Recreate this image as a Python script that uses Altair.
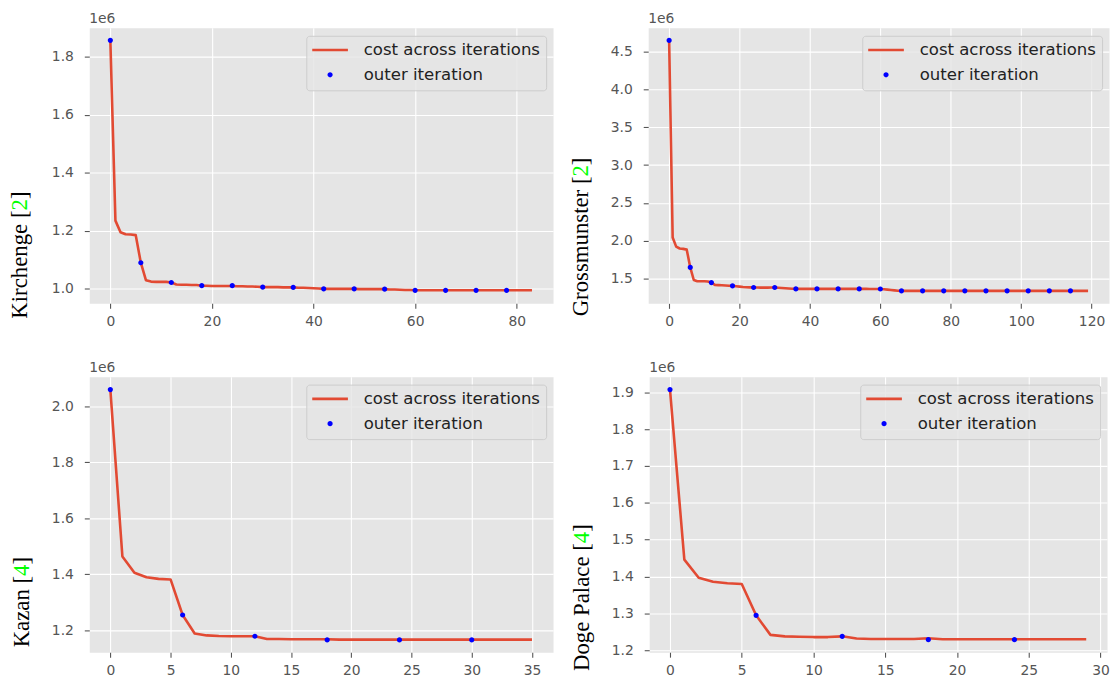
import altair as alt
import pandas as pd

SERIES = ["cost across iterations", "outer iteration"]
LINE_COLOR = "#E24A33"
DOT_COLOR = "#0000FF"
LINE_PATH = "M-4,0H4"
DOT_PATH = "M-0.29,0A0.29,0.29,0,1,1,0.29,0A0.29,0.29,0,1,1,-0.29,0Z"

# ---- Kirchenge [2] (values in units of 1e6) ----
kir_cost = [
    1.856, 1.235, 1.195, 1.188, 1.187, 1.185, 1.090, 1.030, 1.025, 1.024,
    1.024, 1.024, 1.022, 1.015, 1.014, 1.014, 1.013, 1.013, 1.011, 1.011,
    1.010, 1.010, 1.010, 1.010, 1.010, 1.009, 1.009, 1.008, 1.008, 1.007,
    1.006, 1.006, 1.006, 1.006, 1.005, 1.005, 1.005, 1.004, 1.004, 1.003,
    1.002, 1.001, 1.000, 1.000, 1.000, 1.000, 1.000, 1.000, 1.000, 0.999,
    0.999, 0.999, 0.999, 0.999, 0.999, 0.998, 0.998, 0.997, 0.996, 0.996,
    0.995, 0.995, 0.995, 0.995, 0.995, 0.995, 0.995, 0.995, 0.995, 0.995,
    0.995, 0.995, 0.995, 0.995, 0.995, 0.995, 0.995, 0.995, 0.995, 0.995,
    0.995, 0.995, 0.995, 0.995,
]
kir_outer_it = [0, 6, 12, 18, 24, 30, 36, 42, 48, 54, 60, 66, 72, 78]
kir_outer = [1.856, 1.090, 1.022, 1.011, 1.011, 1.006, 1.005, 1.000, 1.000,
             0.999, 0.995, 0.995, 0.995, 0.995]

# ---- Grossmunster [2] ----
gro_cost = [
    4.652, 2.040, 1.920, 1.895, 1.890, 1.880, 1.644, 1.478, 1.462, 1.460,
    1.460, 1.458, 1.443, 1.413, 1.410, 1.408, 1.405, 1.402, 1.400, 1.395,
    1.390, 1.385, 1.382, 1.380, 1.378, 1.378, 1.377, 1.377, 1.377, 1.378,
    1.378, 1.375, 1.372, 1.368, 1.365, 1.362, 1.360, 1.360, 1.360, 1.360,
    1.360, 1.360, 1.360, 1.360, 1.360, 1.360, 1.360, 1.360, 1.360, 1.360,
    1.360, 1.360, 1.360, 1.360, 1.360, 1.360, 1.360, 1.359, 1.359, 1.358,
    1.358, 1.355, 1.350, 1.345, 1.340, 1.336, 1.334, 1.334, 1.334, 1.334,
    1.334, 1.334, 1.334, 1.334, 1.334, 1.334, 1.334, 1.334, 1.334, 1.334,
    1.334, 1.334, 1.334, 1.334, 1.334, 1.334, 1.334, 1.334, 1.334, 1.334,
    1.334, 1.334, 1.334, 1.334, 1.334, 1.334, 1.334, 1.334, 1.334, 1.334,
    1.334, 1.334, 1.334, 1.334, 1.334, 1.334, 1.334, 1.334, 1.334, 1.334,
    1.334, 1.334, 1.334, 1.334, 1.334, 1.334, 1.334, 1.334, 1.334, 1.334,
]
gro_outer_it = [0, 6, 12, 18, 24, 30, 36, 42, 48, 54, 60, 66, 72, 78, 84, 90,
                96, 102, 108, 114]
gro_outer = [4.652, 1.644, 1.443, 1.400, 1.378, 1.378, 1.360, 1.360, 1.360,
             1.360, 1.358, 1.334, 1.334, 1.334, 1.334, 1.334, 1.334, 1.334,
             1.334, 1.334]

# ---- Kazan [4] ----
kaz_cost = [
    2.059, 1.463, 1.405, 1.389, 1.383, 1.381, 1.254, 1.188, 1.181, 1.179,
    1.178, 1.178, 1.178, 1.168, 1.168, 1.167, 1.167, 1.167, 1.167, 1.166,
    1.166, 1.166, 1.166, 1.166, 1.166, 1.166, 1.166, 1.166, 1.166, 1.166,
    1.166, 1.166, 1.166, 1.166, 1.166, 1.166,
]
kaz_outer_it = [0, 6, 12, 18, 24, 30]
kaz_outer = [2.059, 1.254, 1.178, 1.165, 1.165, 1.165]

# ---- Doge Palace [4] ----
dog_cost = [
    1.907, 1.446, 1.397, 1.386, 1.382, 1.380, 1.295, 1.242, 1.238, 1.237,
    1.236, 1.236, 1.238, 1.232, 1.231, 1.231, 1.231, 1.231, 1.233, 1.230,
    1.230, 1.230, 1.230, 1.230, 1.230, 1.230, 1.230, 1.230, 1.230, 1.230,
]
dog_outer_it = [0, 6, 12, 18, 24]
dog_outer = [1.907, 1.295, 1.238, 1.229, 1.229]

# axis limits and ticks
kir_xdom, kir_ydom = [-4.15, 87.15], [0.950, 1.899]
gro_xdom, gro_ydom = [-5.95, 124.95], [1.168, 4.818]
kaz_xdom, kaz_ydom = [-1.75, 36.75], [1.121, 2.105]
dog_xdom, dog_ydom = [-1.45, 30.45], [1.195, 1.942]
kir_xticks, kir_yticks = [0, 20, 40, 60, 80], [1.0, 1.2, 1.4, 1.6, 1.8]
gro_xticks, gro_yticks = [0, 20, 40, 60, 80, 100, 120], [1.5, 2.0, 2.5, 3.0, 3.5, 4.0, 4.5]
kaz_xticks, kaz_yticks = [0, 5, 10, 15, 20, 25, 30, 35], [1.2, 1.4, 1.6, 1.8, 2.0]
dog_xticks, dog_yticks = [0, 5, 10, 15, 20, 25, 30], [1.2, 1.3, 1.4, 1.5, 1.6, 1.7, 1.8, 1.9]

OFFSET_TEXT = "1e6"


def panel(name, ref, cost, outer_it, outer, xdom, ydom, xticks, yticks,
          width, height, title_x, split_y):
    cost_df = pd.DataFrame({"iteration": list(range(len(cost))), "cost": cost,
                            "series": SERIES[0]})
    outer_df = pd.DataFrame({"iteration": outer_it, "cost": outer,
                             "series": SERIES[1]})
    x = alt.X("iteration:Q", scale=alt.Scale(domain=xdom, nice=False, zero=False),
              axis=alt.Axis(values=xticks, title=None, labelPadding=6, format="d"))
    y = alt.Y("cost:Q", scale=alt.Scale(domain=ydom, nice=False, zero=False),
              axis=alt.Axis(values=yticks, title=None, labelPadding=11, format=".1f"))
    color = alt.Color("series:N",
                      scale=alt.Scale(domain=SERIES, range=[LINE_COLOR, DOT_COLOR]),
                      legend=alt.Legend(title=None))
    shape = alt.Shape("series:N",
                      scale=alt.Scale(domain=SERIES, range=[LINE_PATH, DOT_PATH]),
                      legend=alt.Legend(title=None))
    line = alt.Chart(cost_df).mark_line(strokeWidth=2.6, strokeJoin="round").encode(
        x=x, y=y, color=color)
    dots = alt.Chart(outer_df).mark_point(size=81, strokeWidth=2.6, opacity=1,
                                          filled=False).encode(
        x=x, y=y, color=color, shape=shape)

    tbase = dict(angle=270, font="Liberation Serif", fontSize=23, baseline="alphabetic")
    t1 = alt.Chart(pd.DataFrame({"t": [name + " ["]})).mark_text(
        align="right", color="black", **tbase).encode(
        text="t:N", x=alt.value(title_x), y=alt.value(split_y))
    t2 = alt.Chart(pd.DataFrame({"t": [ref]})).mark_text(
        align="left", color="#00FF00", **tbase).encode(
        text="t:N", x=alt.value(title_x), y=alt.value(split_y))
    t3 = alt.Chart(pd.DataFrame({"t": ["]"]})).mark_text(
        align="left", color="black", **tbase).encode(
        text="t:N", x=alt.value(title_x), y=alt.value(split_y - 11.5))
    off = alt.Chart(pd.DataFrame({"t": [OFFSET_TEXT]})).mark_text(
        align="left", baseline="alphabetic", font="DejaVu Sans", fontSize=14,
        color="#555555").encode(text="t:N", x=alt.value(0), y=alt.value(-5))

    return alt.layer(line, dots, t1, t2, t3, off).properties(width=width, height=height)


p1 = panel("Kirchenge", "2", kir_cost, kir_outer_it, kir_outer, kir_xdom, kir_ydom,
           kir_xticks, kir_yticks, 468, 278, -62.8, 184.3)
p2 = panel("Grossmunster", "2", gro_cost, gro_outer_it, gro_outer, gro_xdom, gro_ydom,
           gro_xticks, gro_yticks, 465, 278, -60.5, 150)
p3 = panel("Kazan", "4", kaz_cost, kaz_outer_it, kaz_outer, kaz_xdom, kaz_ydom,
           kaz_xticks, kaz_yticks, 468, 278, -61, 201)
p4 = panel("Doge Palace", "4", dog_cost, dog_outer_it, dog_outer, dog_xdom, dog_ydom,
           dog_xticks, dog_yticks, 462, 278, -61, 168)


def indep(c):
    return c.resolve_scale(color="independent", shape="independent").resolve_legend(
        color="independent", shape="independent")


row1 = indep(alt.hconcat(p1, p2, spacing=16))
row2 = indep(alt.hconcat(p3, p4, spacing=16))
chart = indep(alt.vconcat(row1, row2, spacing=31)).properties(padding=0)

chart = chart.configure_view(fill="#E5E5E5", stroke="transparent").configure_axis(
    grid=True, gridColor="#FFFFFF", gridWidth=1.1, domain=False,
    tickColor="#555555", tickSize=5, tickWidth=1.1,
    labelColor="#555555", labelFont="DejaVu Sans", labelFontSize=14,
).configure_legend(
    orient="top-right", offset=7.5, padding=6,
    fillColor="rgba(229,229,229,0.8)", strokeColor="#CCCCCC", cornerRadius=3,
    labelFont="DejaVu Sans", labelFontSize=16.7, labelColor="#222222", labelLimit=400,
    symbolSize=81, symbolStrokeWidth=2.6, symbolOffset=9.65, labelOffset=25.6,
    rowPadding=7,
)

chart.save("out.html", embed_options={"renderer": "svg", "actions": False})
